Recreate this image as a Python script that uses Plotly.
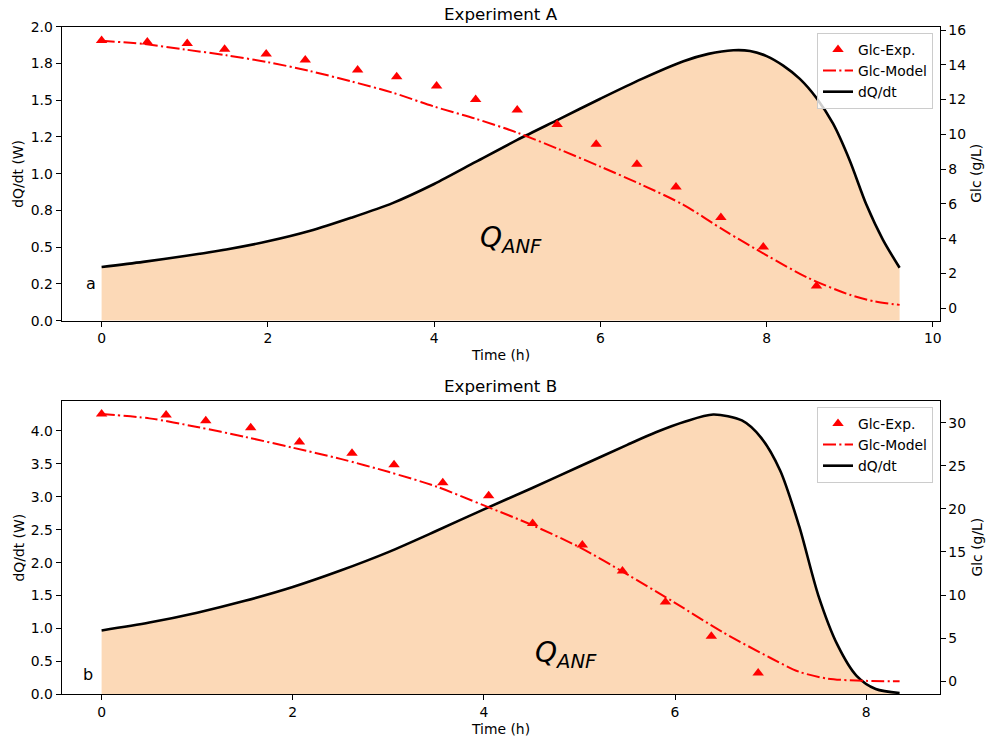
import plotly.graph_objects as go

# ---------------- Data: Experiment A ----------------
tA_exp = [0.0, 0.55, 1.03, 1.48, 1.98, 2.45, 3.08, 3.55, 4.03, 4.50, 5.00, 5.48, 5.95, 6.44, 6.91, 7.45, 7.96, 8.60]
glcA_exp = [15.40, 15.31, 15.23, 14.89, 14.62, 14.27, 13.70, 13.31, 12.78, 12.01, 11.40, 10.57, 9.44, 8.29, 6.98, 5.22, 3.53, 1.28]

tA_model = [0.0, 0.5, 1.0, 1.5, 2.0, 2.5, 3.0, 3.5, 4.0, 4.5, 5.0, 5.5, 6.0, 6.5, 7.0, 7.5, 8.0, 8.5, 9.0, 9.3, 9.6]
glcA_model = [15.38, 15.20, 14.88, 14.55, 14.15, 13.65, 13.05, 12.40, 11.60, 10.90, 10.10, 9.15, 8.15, 7.10, 5.95, 4.45, 3.05, 1.75, 0.78, 0.40, 0.20]

tA_dq = [0.0, 0.5, 1.0, 1.5, 2.0, 2.5, 3.0, 3.5, 4.0, 4.5, 5.0, 5.5, 6.0, 6.5, 7.0, 7.3, 7.6, 7.8, 8.0, 8.2, 8.4, 8.6, 8.8, 9.0, 9.2, 9.4, 9.6]
dqA = [0.365, 0.40, 0.44, 0.485, 0.54, 0.61, 0.70, 0.80, 0.93, 1.08, 1.23, 1.37, 1.51, 1.645, 1.765, 1.815, 1.84, 1.835, 1.80, 1.735, 1.645, 1.515, 1.34, 1.09, 0.79, 0.55, 0.36]

# ---------------- Data: Experiment B ----------------
tB_exp = [0.0, 0.675, 1.09, 1.56, 2.07, 2.62, 3.06, 3.57, 4.05, 4.51, 5.03, 5.45, 5.90, 6.38, 6.87]
glcB_exp = [31.01, 30.89, 30.23, 29.42, 27.76, 26.45, 25.12, 23.03, 21.52, 18.31, 15.80, 12.78, 9.21, 5.23, 0.97]

tB_model = [0.0, 0.5, 1.0, 1.5, 2.0, 2.5, 3.0, 3.5, 4.0, 4.5, 5.0, 5.5, 6.0, 6.5, 7.0, 7.3, 7.6, 8.0, 8.35]
glcB_model = [31.0, 30.5, 29.5, 28.35, 27.1, 25.8, 24.3, 22.6, 20.4, 18.15, 15.55, 12.4, 9.1, 5.7, 2.7, 1.1, 0.3, 0.05, 0.0]

tB_dq = [0.0, 0.5, 1.0, 1.5, 2.0, 2.5, 3.0, 3.5, 4.0, 4.5, 5.0, 5.5, 5.8, 6.1, 6.4, 6.7, 6.9, 7.1, 7.3, 7.5, 7.7, 7.9, 8.1, 8.35]
dqB = [0.97, 1.09, 1.24, 1.42, 1.63, 1.88, 2.16, 2.48, 2.81, 3.13, 3.46, 3.79, 3.98, 4.14, 4.25, 4.16, 3.90, 3.40, 2.55, 1.50, 0.75, 0.28, 0.08, 0.02]

xticksA = [0, 2, 4, 6, 8, 10]
xticksB = [0, 2, 4, 6, 8]
yticksA = [0, 0.25, 0.5, 0.75, 1.0, 1.25, 1.5, 1.75, 2.0]
ytextA = ["0.0", "0.2", "0.5", "0.8", "1.0", "1.2", "1.5", "1.8", "2.0"]
yticksA2 = [0, 2, 4, 6, 8, 10, 12, 14, 16]
yticksB = [0, 0.5, 1.0, 1.5, 2.0, 2.5, 3.0, 3.5, 4.0]
yticksB2 = [0, 5, 10, 15, 20, 25, 30]

FONT = "DejaVu Sans"
FILL = "rgb(252,217,183)"
DASH = "13px,3.3px,2.1px,3.3px"

fig = go.Figure()


def add_panel(t_dq, dq, t_exp, g_exp, t_mod, g_mod, xa, ya, ya2, leg):
    fig.add_trace(go.Scatter(x=t_dq, y=dq, mode="lines", fill="tozeroy",
                             fillcolor=FILL, line=dict(width=0, color=FILL, shape="spline", smoothing=0.8),
                             showlegend=False, hoverinfo="skip", xaxis=xa, yaxis=ya))
    fig.add_trace(go.Scatter(x=t_dq, y=dq, mode="lines", name="dQ/dt",
                             line=dict(color="black", width=2.6, shape="spline", smoothing=0.8),
                             legend=leg, legendrank=3, xaxis=xa, yaxis=ya))
    fig.add_trace(go.Scatter(x=t_exp, y=g_exp, mode="markers", name="Glc-Exp.",
                             marker=dict(symbol="triangle-up", color="red", size=10),
                             legend=leg, legendrank=1, xaxis=xa, yaxis=ya2))
    fig.add_trace(go.Scatter(x=t_mod, y=g_mod, mode="lines", name="Glc-Model",
                             line=dict(color="red", width=2, dash=DASH, shape="spline", smoothing=0.8),
                             legend=leg, legendrank=2, xaxis=xa, yaxis=ya2))


add_panel(tA_dq, dqA, tA_exp, glcA_exp, tA_model, glcA_model, "x", "y", "y2", "legend")
add_panel(tB_dq, dqB, tB_exp, glcB_exp, tB_model, glcB_model, "x2", "y3", "y4", "legend2")

W, H = 988, 742
XD = [61.7 / W, 939.5 / W]
DA = [1 - 320.7 / H, 1 - 26.7 / H]
DB = [1 - 694.3 / H, 1 - 400.7 / H]

tickfont = dict(family=FONT, size=13.9, color="black")
common = dict(showgrid=False, zeroline=False, showline=True, linecolor="black", linewidth=1.1,
              ticks="outside", ticklen=5, tickwidth=1.1, tickcolor="black", tickfont=tickfont,
              automargin=False)

fig.update_layout(
    width=W, height=H,
    margin=dict(l=0, r=0, t=0, b=0),
    paper_bgcolor="white", plot_bgcolor="white",
    font=dict(family=FONT, size=13.9, color="black"),
    xaxis=dict(domain=XD, range=[-0.48, 10.08], tickvals=xticksA, anchor="y", mirror=True, **common),
    yaxis=dict(domain=DA, range=[0, 2.0], tickvals=yticksA, ticktext=ytextA, anchor="x", **common),
    yaxis2=dict(domain=DA, range=[-0.71, 16.19], tickvals=yticksA2, anchor="x", overlaying="y", side="right", **common),
    xaxis2=dict(domain=XD, range=[-0.4175, 8.7675], tickvals=xticksB, anchor="y3", mirror=True, **common),
    yaxis3=dict(domain=DB, range=[0, 4.46], tickvals=yticksB, tickformat=".1f", anchor="x2", **common),
    yaxis4=dict(domain=DB, range=[-1.51, 32.55], tickvals=yticksB2, anchor="x2", overlaying="y3", side="right", **common),
    legend=dict(x=933 / W, y=1 - 33 / H, xanchor="right", yanchor="top",
                bgcolor="rgba(255,255,255,0.8)", bordercolor="#cccccc", borderwidth=1,
                font=dict(family=FONT, size=13.9), tracegroupgap=0, itemwidth=30),
    legend2=dict(x=933 / W, y=1 - 407 / H, xanchor="right", yanchor="top",
                 bgcolor="rgba(255,255,255,0.8)", bordercolor="#cccccc", borderwidth=1,
                 font=dict(family=FONT, size=13.9), tracegroupgap=0, itemwidth=30),
    showlegend=True,
)


def ptext(text, px, py, size=13.9, angle=0):
    return dict(text=text, xref="paper", yref="paper", x=px / W, y=1 - py / H,
                xanchor="center", yanchor="middle", showarrow=False, textangle=angle,
                font=dict(family=FONT, size=size, color="black"))


midA = (26.7 + 320.7) / 2
midB = (400.7 + 694.3) / 2
xmid = (61.7 + 939.5) / 2
annots = [
    ptext("Experiment A", xmid, 14, 16.7),
    ptext("Experiment B", xmid, 386, 16.7),
    ptext("Time (h)", xmid, 355),
    ptext("Time (h)", xmid, 729),
    ptext("dQ/dt (W)", 18, midA, angle=-90),
    ptext("dQ/dt (W)", 18, midB, angle=-90),
    ptext("Glc (g/L)", 976, midA, angle=-90),
    ptext("Glc (g/L)", 976, midB, angle=-90),
    dict(text="<i>Q</i><sub><i>ANF</i></sub>", xref="x", yref="y", x=4.92, y=0.55,
         showarrow=False, font=dict(family=FONT, size=28)),
    dict(text="<i>Q</i><sub><i>ANF</i></sub>", xref="x2", yref="y3", x=4.86, y=0.6,
         showarrow=False, font=dict(family=FONT, size=28)),
    dict(text="a", xref="x", yref="y", x=-0.13, y=0.256, showarrow=False, font=dict(family=FONT, size=16)),
    dict(text="b", xref="x2", yref="y3", x=-0.14, y=0.3, showarrow=False, font=dict(family=FONT, size=16)),
]
fig.update_layout(annotations=annots)

fig.write_html("out.html", config={"displayModeBar": False},
               post_script="document.body.style.margin='0';document.body.style.overflow='hidden';")
